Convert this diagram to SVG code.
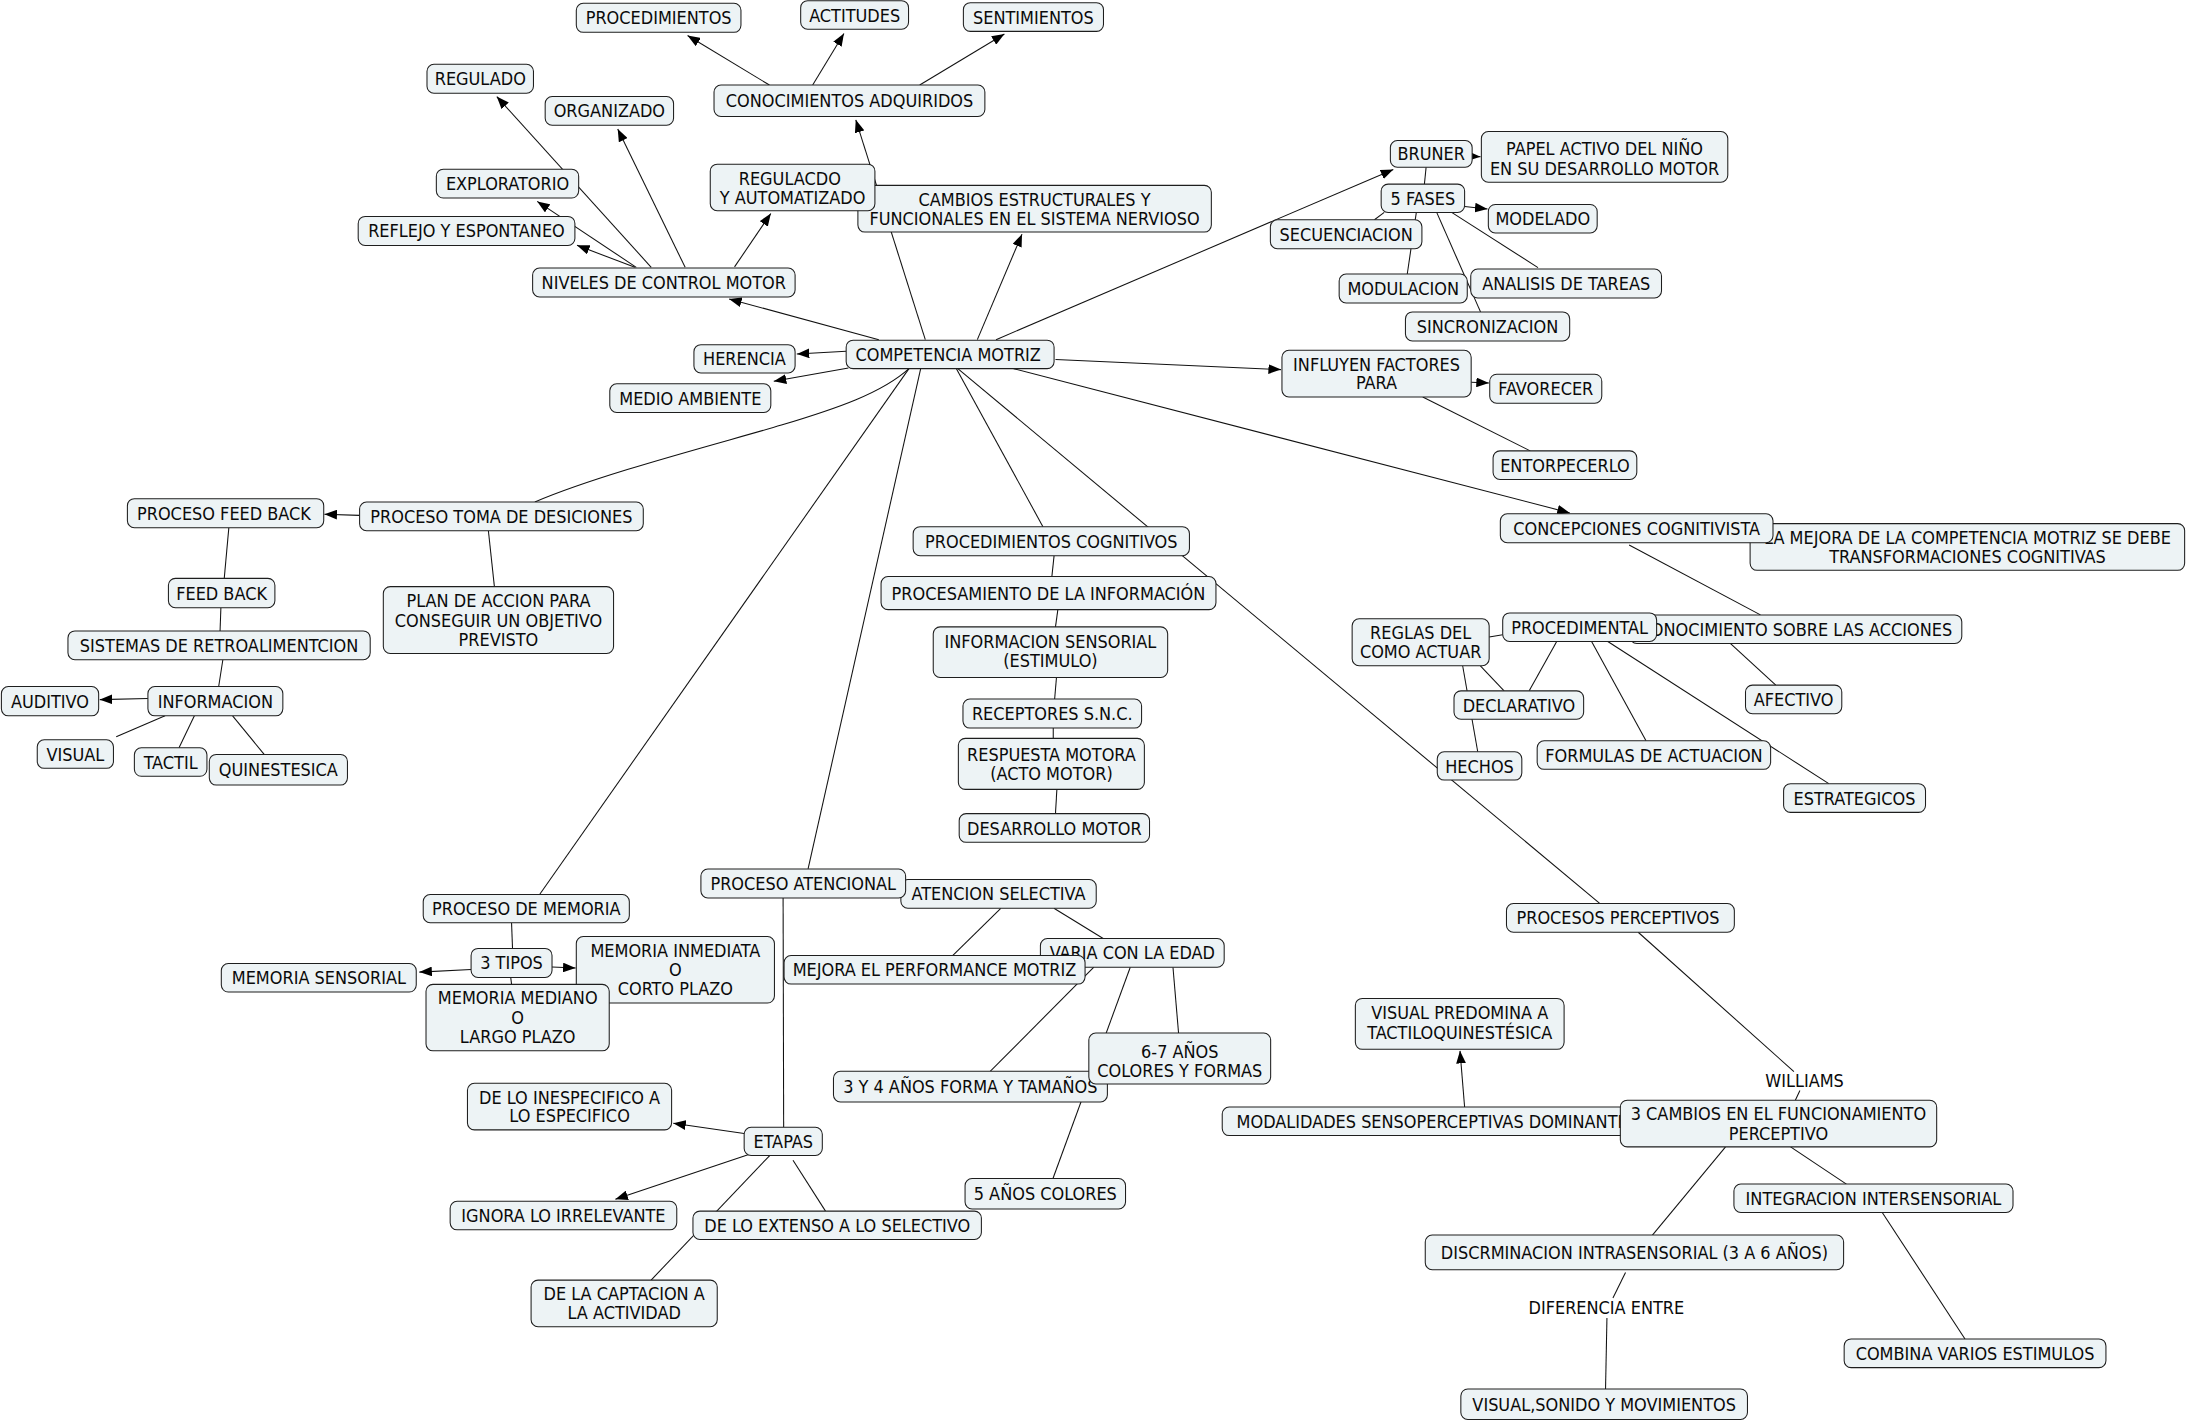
<svg xmlns="http://www.w3.org/2000/svg" width="2188" height="1423" viewBox="0 0 2188 1423">
<style>
.node rect{fill:#edf3f5;stroke:#1e1e1e;stroke-width:0.75}
text{font-family:"DejaVu Sans Condensed","DejaVu Sans",sans-serif;font-stretch:condensed;font-size:12.85px;fill:#0a0a0a;text-anchor:middle}
.conn line,.conn path{stroke:#111;stroke-width:0.75;fill:none}
.conn .a{marker-end:url(#ah)}
</style>
<defs>
<marker id="ah" viewBox="0 0 10 10" refX="10" refY="5" markerWidth="9" markerHeight="7" markerUnits="userSpaceOnUse" orient="auto" preserveAspectRatio="none"><path d="M0,0L10,5L0,10z" fill="#000"/></marker>
</defs>
<rect width="2188" height="1423" fill="#fff"/>
<g transform="scale(1.3954,1.3937)">
<g id="connectors" class="conn">
<line class="a" x1="455" y1="191.8" x2="413.5" y2="176"/>
<line class="a" x1="456" y1="191.8" x2="385" y2="144.5"/>
<line class="a" x1="466.7" y1="191.8" x2="356" y2="69.3"/>
<line class="a" x1="491" y1="191.8" x2="442.7" y2="92.5"/>
<line class="a" x1="526.4" y1="191.5" x2="552.4" y2="153.2"/>
<line class="a" x1="629.8" y1="243.7" x2="522.5" y2="214.5"/>
<line class="a" x1="606.4" y1="252" x2="571" y2="254"/>
<line class="a" x1="608" y1="264" x2="554.5" y2="273.6"/>
<line class="a" x1="663.1" y1="243.7" x2="613.3" y2="86"/>
<line class="a" x1="700.4" y1="243.7" x2="732.4" y2="168"/>
<line class="a" x1="551.4" y1="61" x2="492.7" y2="25.5"/>
<line class="a" x1="582.4" y1="61" x2="604.8" y2="24"/>
<line class="a" x1="659.1" y1="61" x2="719.8" y2="24.4"/>
<line class="a" x1="713.8" y1="243.7" x2="998.5" y2="121.6"/>
<line class="a" x1="1052" y1="112" x2="1061" y2="112.5"/>
<line x1="1022" y1="120" x2="1020.8" y2="132.1"/>
<line class="a" x1="1049.6" y1="148.1" x2="1066" y2="150"/>
<line x1="992" y1="152.4" x2="985" y2="157.7"/>
<line x1="1015" y1="152.4" x2="1008.5" y2="196.6"/>
<line x1="1029.6" y1="152.4" x2="1061" y2="223.8"/>
<line x1="1040.3" y1="152.4" x2="1102.2" y2="192"/>
<line class="a" x1="756.4" y1="258" x2="918" y2="265.2"/>
<line class="a" x1="1054.3" y1="274.2" x2="1067" y2="274.8"/>
<line x1="1019.6" y1="284.8" x2="1096.6" y2="323.5"/>
<line class="a" x1="726.4" y1="264.5" x2="1125" y2="368"/>
<line x1="1167.5" y1="391" x2="1261.6" y2="441.2"/>
<line x1="1240" y1="461.7" x2="1272.6" y2="491.6"/>
<line x1="1076.9" y1="455.5" x2="1067.2" y2="457"/>
<line x1="1115.6" y1="460.3" x2="1095.9" y2="495.7"/>
<line x1="1140.6" y1="460.3" x2="1179.6" y2="531.5"/>
<line x1="1152.2" y1="460.3" x2="1310.6" y2="562.3"/>
<line x1="1060.9" y1="477.7" x2="1077.9" y2="495.7"/>
<line x1="1048.2" y1="477.7" x2="1059" y2="539.4"/>
<line x1="686.4" y1="264.5" x2="1146.6" y2="648.3"/>
<line x1="685.4" y1="264.5" x2="747.4" y2="377.9"/>
<line x1="651.4" y1="264.5" x2="386.7" y2="641.8"/>
<line x1="659.8" y1="264.5" x2="579.1" y2="623.5"/>
<path d="M651.4,264.5 C632,282 600,293 560,305 S430,340 383.3,360.2"/>
<line class="a" x1="257.7" y1="369.8" x2="232.5" y2="369"/>
<line x1="164" y1="378.6" x2="160.7" y2="415"/>
<line x1="350" y1="380.8" x2="354.3" y2="420.9"/>
<line x1="158.3" y1="436" x2="157.7" y2="452.7"/>
<line x1="159.7" y1="473.4" x2="156.7" y2="492.6"/>
<line class="a" x1="106" y1="501.2" x2="71.5" y2="502"/>
<line x1="118.3" y1="513.6" x2="83.3" y2="528.6"/>
<line x1="139.3" y1="513.6" x2="128.3" y2="536.5"/>
<line x1="166.7" y1="513.6" x2="189.3" y2="541.3"/>
<line x1="755.4" y1="398.7" x2="753.8" y2="413.7"/>
<line x1="758.1" y1="437.4" x2="756.4" y2="449.8"/>
<line x1="757.1" y1="486.1" x2="755.8" y2="501.6"/>
<line x1="754.8" y1="522.4" x2="754.8" y2="529.8"/>
<line x1="757.4" y1="566.4" x2="756.4" y2="583.8"/>
<line x1="561.2" y1="644.3" x2="561.6" y2="808.8"/>
<line x1="717.2" y1="651.7" x2="682.7" y2="685.6"/>
<line x1="755.3" y1="651.7" x2="790.6" y2="673.4"/>
<line x1="783.9" y1="694" x2="709.6" y2="768.7"/>
<line x1="810" y1="694" x2="754.6" y2="845.6"/>
<line x1="840.6" y1="694" x2="844.6" y2="741.2"/>
<line x1="366.6" y1="662.1" x2="367.3" y2="680.5"/>
<line class="a" x1="337.6" y1="695.6" x2="300.5" y2="697.5"/>
<line class="a" x1="395.6" y1="693.9" x2="412.5" y2="694.6"/>
<line x1="366" y1="701.3" x2="366.6" y2="706.3"/>
<line class="a" x1="533.3" y1="813.3" x2="482.5" y2="806"/>
<line class="a" x1="536.6" y1="828.4" x2="441" y2="860.5"/>
<line x1="568.3" y1="832.5" x2="591.6" y2="869"/>
<line x1="551.6" y1="829.1" x2="466.6" y2="918.5"/>
<line class="a" x1="1049.6" y1="794.3" x2="1046.3" y2="754"/>
<line x1="1174" y1="668.9" x2="1285.6" y2="768.9"/>
<line x1="1289.9" y1="782.5" x2="1286.6" y2="789.4"/>
<line x1="1236.6" y1="822.9" x2="1184.2" y2="886.2"/>
<line x1="1283.2" y1="822.9" x2="1323.2" y2="849.6"/>
<line x1="1348.9" y1="870" x2="1408.2" y2="960.7"/>
<line x1="1164.9" y1="913" x2="1155.9" y2="931.3"/>
<line x1="1151.6" y1="945.7" x2="1150.6" y2="996.6"/>
</g>
<g id="n-procedimientos" class="node"><rect x="413" y="2.4" width="118" height="20.8" rx="5"/><text x="472" y="17.5">PROCEDIMIENTOS</text></g>
<g id="n-actitudes" class="node"><rect x="573.8" y="0.5" width="77.3" height="20.5" rx="5"/><text x="612.5" y="15.5">ACTITUDES</text></g>
<g id="n-sentimientos" class="node"><rect x="690.4" y="1.9" width="100.4" height="20.6" rx="5"/><text x="740.6" y="16.9">SENTIMIENTOS</text></g>
<g id="n-conocimientos-adquiridos" class="node"><rect x="511.7" y="61" width="194.1" height="22.6" rx="5"/><text x="608.8" y="77">CONOCIMIENTOS ADQUIRIDOS</text></g>
<g id="n-regulado" class="node"><rect x="306" y="46.1" width="76.3" height="20.8" rx="5"/><text x="344.2" y="61.2">REGULADO</text></g>
<g id="n-organizado" class="node"><rect x="390.7" y="69.3" width="92" height="20.5" rx="5"/><text x="436.7" y="84.3">ORGANIZADO</text></g>
<g id="n-exploratorio" class="node"><rect x="312.7" y="121.4" width="102" height="20.7" rx="5"/><text x="363.7" y="136.5">EXPLORATORIO</text></g>
<g id="n-reflejo" class="node"><rect x="256.7" y="155.3" width="155.3" height="20.8" rx="5"/><text x="334.3" y="170.4">REFLEJO Y ESPONTANEO</text></g>
<g id="n-niveles" class="node"><rect x="381.7" y="192.3" width="188.1" height="20.8" rx="5"/><text x="475.7" y="207.4">NIVELES DE CONTROL MOTOR</text></g>
<g id="n-cambios" class="node"><rect x="614.8" y="133" width="253.3" height="33.5" rx="5"/><text x="741.4" y="147.5">CAMBIOS ESTRUCTURALES Y</text><text x="741.4" y="161.5">FUNCIONALES EN EL SISTEMA NERVIOSO</text></g>
<g id="n-regulacdo" class="node"><rect x="509" y="117.8" width="118" height="33.4" rx="5"/><text x="566" y="132.5">REGULACDO</text><text x="568" y="146.3">Y AUTOMATIZADO</text></g>
<g id="n-competencia" class="node"><rect x="606.4" y="244.1" width="149" height="20.4" rx="5"/><text x="679.5" y="259">COMPETENCIA MOTRIZ</text></g>
<g id="n-herencia" class="node"><rect x="497.3" y="247.3" width="72.5" height="20.3" rx="5"/><text x="533.5" y="262.2">HERENCIA</text></g>
<g id="n-medio-ambiente" class="node"><rect x="437" y="275.4" width="115.4" height="20.6" rx="5"/><text x="494.7" y="290.4">MEDIO AMBIENTE</text></g>
<g id="n-bruner" class="node"><rect x="996.4" y="100.8" width="58.6" height="19.2" rx="5"/><text x="1025.7" y="115.1">BRUNER</text></g>
<g id="n-papel" class="node"><rect x="1061.6" y="94.4" width="176.6" height="36.3" rx="5"/><text x="1149.9" y="111.5">PAPEL ACTIVO DEL NIÑO</text><text x="1149.9" y="125.3">EN SU DESARROLLO MOTOR</text></g>
<g id="n-5fases" class="node"><rect x="989.8" y="132.1" width="59.8" height="20.3" rx="5"/><text x="1019.7" y="147">5 FASES</text></g>
<g id="n-modelado" class="node"><rect x="1066.6" y="146.7" width="78" height="20.5" rx="5"/><text x="1105.6" y="161.7">MODELADO</text></g>
<g id="n-secuenciacion" class="node"><rect x="910.4" y="157.7" width="108.6" height="20.8" rx="5"/><text x="964.7" y="172.8">SECUENCIACION</text></g>
<g id="n-modulacion" class="node"><rect x="959.7" y="196.6" width="91.8" height="20.8" rx="5"/><text x="1005.6" y="211.7">MODULACION</text></g>
<g id="n-analisis" class="node"><rect x="1054" y="193" width="136.7" height="20.8" rx="5"/><text x="1122.4" y="208.1">ANALISIS DE TAREAS</text></g>
<g id="n-sincronizacion" class="node"><rect x="1007.2" y="223.8" width="117.7" height="20.8" rx="5"/><text x="1066" y="238.9">SINCRONIZACION</text></g>
<g id="n-influyen" class="node"><rect x="918.7" y="251.3" width="135.6" height="33.5" rx="5"/><text x="986.5" y="266.3">INFLUYEN FACTORES</text><text x="986.5" y="279.4">PARA</text></g>
<g id="n-favorecer" class="node"><rect x="1067.6" y="268.5" width="80.3" height="20.8" rx="5"/><text x="1107.8" y="283.6">FAVORECER</text></g>
<g id="n-entorpecerlo" class="node"><rect x="1070" y="323.5" width="103" height="20.5" rx="5"/><text x="1121.5" y="338.5">ENTORPECERLO</text></g>
<g id="n-proceso-feed-back" class="node"><rect x="91.3" y="357.8" width="140.7" height="20.8" rx="5"/><text x="160.5" y="372.9">PROCESO FEED BACK</text></g>
<g id="n-toma-desiciones" class="node"><rect x="257.7" y="360.2" width="203.3" height="20.6" rx="5"/><text x="359.3" y="375.2">PROCESO TOMA DE DESICIONES</text></g>
<g id="n-feed-back" class="node"><rect x="120.7" y="415" width="76.3" height="21" rx="5"/><text x="158.8" y="430.2">FEED BACK</text></g>
<g id="n-plan" class="node"><rect x="274.7" y="420.9" width="165" height="48" rx="5"/><text x="357.2" y="435.6">PLAN DE ACCION PARA</text><text x="357.2" y="449.6">CONSEGUIR UN OBJETIVO</text><text x="357.2" y="463.6">PREVISTO</text></g>
<g id="n-sistemas" class="node"><rect x="48.7" y="452.7" width="216.6" height="20.7" rx="5"/><text x="157" y="467.8">SISTEMAS DE RETROALIMENTCION</text></g>
<g id="n-informacion" class="node"><rect x="106" y="492.6" width="96.7" height="21" rx="5"/><text x="154.3" y="507.8">INFORMACION</text></g>
<g id="n-auditivo" class="node"><rect x="1" y="492.6" width="69.7" height="21" rx="5"/><text x="35.8" y="507.8">AUDITIVO</text></g>
<g id="n-visual" class="node"><rect x="26.7" y="530.8" width="54.6" height="20.5" rx="5"/><text x="54" y="545.8">VISUAL</text></g>
<g id="n-tactil" class="node"><rect x="96.3" y="536.5" width="52" height="20.5" rx="5"/><text x="122.3" y="551.5">TACTIL</text></g>
<g id="n-quinestesica" class="node"><rect x="150" y="541.3" width="99" height="22" rx="5"/><text x="199.5" y="557">QUINESTESICA</text></g>
<g id="n-procedimientos-cognitivos" class="node"><rect x="654.4" y="377.9" width="198" height="20.8" rx="5"/><text x="753.4" y="393">PROCEDIMIENTOS COGNITIVOS</text></g>
<g id="n-procesamiento" class="node"><rect x="631.4" y="413.7" width="240" height="23.7" rx="5"/><text x="751.4" y="430.2">PROCESAMIENTO DE LA INFORMACIÓN</text></g>
<g id="n-info-sensorial" class="node"><rect x="668.8" y="449.8" width="168" height="36.3" rx="5"/><text x="752.8" y="465">INFORMACION SENSORIAL</text><text x="752.8" y="478.9">(ESTIMULO)</text></g>
<g id="n-receptores" class="node"><rect x="690.1" y="501.6" width="128" height="20.8" rx="5"/><text x="754.1" y="516.7">RECEPTORES S.N.C.</text></g>
<g id="n-respuesta" class="node"><rect x="686.8" y="529.8" width="133.3" height="36.6" rx="5"/><text x="753.5" y="545.7">RESPUESTA MOTORA</text><text x="753.5" y="559.4">(ACTO MOTOR)</text></g>
<g id="n-desarrollo" class="node"><rect x="687.4" y="583.8" width="136.4" height="20.6" rx="5"/><text x="755.6" y="598.8">DESARROLLO MOTOR</text></g>
<g id="n-la-mejora" class="node"><rect x="1254.2" y="375.7" width="311.4" height="33.5" rx="5"/><text x="1410" y="390.5">LA MEJORA DE LA COMPETENCIA MOTRIZ SE DEBE</text><text x="1410" y="404.3">TRANSFORMACIONES COGNITIVAS</text></g>
<g id="n-concepciones" class="node"><rect x="1075.2" y="368.6" width="195.4" height="20.8" rx="5"/><text x="1172.9" y="383.7">CONCEPCIONES COGNITIVISTA</text></g>
<g id="n-conocimiento-acciones" class="node"><rect x="1168" y="441.2" width="237.9" height="20.5" rx="5"/><text x="1287" y="456.2">CONOCIMIENTO SOBRE LAS ACCIONES</text></g>
<g id="n-procedimental" class="node"><rect x="1076.9" y="439.8" width="110.3" height="20.5" rx="5"/><text x="1132" y="454.7">PROCEDIMENTAL</text></g>
<g id="n-reglas" class="node"><rect x="969" y="444" width="98.2" height="33.7" rx="5"/><text x="1018.1" y="458.6">REGLAS DEL</text><text x="1018.1" y="472.4">COMO ACTUAR</text></g>
<g id="n-declarativo" class="node"><rect x="1042" y="495.7" width="92.9" height="20.3" rx="5"/><text x="1088.5" y="510.6">DECLARATIVO</text></g>
<g id="n-hechos" class="node"><rect x="1030" y="539.4" width="60.6" height="20.3" rx="5"/><text x="1060.3" y="554.3">HECHOS</text></g>
<g id="n-afectivo" class="node"><rect x="1250.9" y="491.6" width="69" height="20.5" rx="5"/><text x="1285.4" y="506.6">AFECTIVO</text></g>
<g id="n-formulas" class="node"><rect x="1101.6" y="531.5" width="167.3" height="20.5" rx="5"/><text x="1185.3" y="546.5">FORMULAS DE ACTUACION</text></g>
<g id="n-estrategicos" class="node"><rect x="1278.2" y="562.3" width="101.7" height="20.6" rx="5"/><text x="1329" y="577.3">ESTRATEGICOS</text></g>
<g id="n-procesos-perceptivos" class="node"><rect x="1079.6" y="648.3" width="163.3" height="20.6" rx="5"/><text x="1159.5" y="663.3">PROCESOS PERCEPTIVOS</text></g>
<g id="n-proceso-memoria" class="node"><rect x="303.3" y="641.8" width="147.7" height="20.3" rx="5"/><text x="377.2" y="656.7">PROCESO DE MEMORIA</text></g>
<g id="n-atencion-selectiva" class="node"><rect x="645.6" y="631.1" width="140" height="20.6" rx="5"/><text x="715.6" y="646.1">ATENCION SELECTIVA</text></g>
<g id="n-proceso-atencional" class="node"><rect x="502.3" y="623.5" width="146.7" height="20.8" rx="5"/><text x="575.6" y="638.6">PROCESO ATENCIONAL</text></g>
<g id="n-3-tipos" class="node"><rect x="337.6" y="680.5" width="58" height="20.8" rx="5"/><text x="366.6" y="695.6">3 TIPOS</text></g>
<g id="n-memoria-sensorial" class="node"><rect x="158.6" y="691.3" width="139.7" height="20.5" rx="5"/><text x="228.5" y="706.3">MEMORIA SENSORIAL</text></g>
<g id="n-memoria-inmediata" class="node"><rect x="413" y="672" width="142" height="47.7" rx="5"/><text x="484" y="686.7">MEMORIA INMEDIATA</text><text x="484" y="700.3">O</text><text x="484" y="714.1">CORTO PLAZO</text></g>
<g id="n-memoria-mediano" class="node"><rect x="305.3" y="706.3" width="131.3" height="47.7" rx="5"/><text x="371" y="720.6">MEMORIA MEDIANO</text><text x="371" y="734.4">O</text><text x="371" y="748.3">LARGO PLAZO</text></g>
<g id="n-inespecifico" class="node"><rect x="335" y="777.3" width="146.3" height="33.4" rx="5"/><text x="408.2" y="791.8">DE LO INESPECIFICO A</text><text x="408.2" y="805.4">LO ESPECIFICO</text></g>
<g id="n-etapas" class="node"><rect x="533.3" y="808.8" width="56" height="20.3" rx="5"/><text x="561.3" y="823.7">ETAPAS</text></g>
<g id="n-ignora" class="node"><rect x="322.6" y="861.9" width="162.4" height="20.5" rx="5"/><text x="403.8" y="876.9">IGNORA LO IRRELEVANTE</text></g>
<g id="n-extenso" class="node"><rect x="496.6" y="869" width="206.7" height="20.3" rx="5"/><text x="600" y="883.9">DE LO EXTENSO A LO SELECTIVO</text></g>
<g id="n-captacion" class="node"><rect x="380.6" y="918.5" width="133.4" height="33.4" rx="5"/><text x="447.3" y="932.7">DE LA CAPTACION A</text><text x="447.3" y="946.6">LA ACTIVIDAD</text></g>
<g id="n-varia" class="node"><rect x="745.6" y="673.4" width="131.7" height="20.6" rx="5"/><text x="811.5" y="688.4">VARIA CON LA EDAD</text></g>
<g id="n-mejora-performance" class="node"><rect x="561.9" y="685.6" width="215.7" height="20.5" rx="5"/><text x="669.7" y="700.6">MEJORA EL PERFORMANCE MOTRIZ</text></g>
<g id="n-3y4" class="node"><rect x="597.3" y="768.7" width="196.3" height="22" rx="5"/><text x="695.4" y="784.4">3 Y 4 AÑOS FORMA Y TAMAÑOS</text></g>
<g id="n-6-7" class="node"><rect x="780.3" y="741.2" width="130.3" height="36.6" rx="5"/><text x="845.5" y="758.8">6-7 AÑOS</text><text x="845.5" y="772.7">COLORES Y FORMAS</text></g>
<g id="n-5-anos" class="node"><rect x="691.6" y="845.6" width="115" height="21.9" rx="5"/><text x="749.1" y="861.3">5 AÑOS COLORES</text></g>
<g id="n-visual-predomina" class="node"><rect x="971.3" y="716.4" width="149.6" height="36.5" rx="5"/><text x="1046.1" y="731.4">VISUAL PREDOMINA A</text><text x="1046.1" y="745.2">TACTILOQUINESTÉSICA</text></g>
<g id="n-modalidades" class="node"><rect x="875.9" y="794.3" width="308" height="20.5" rx="5"/><text x="1030" y="809.3">MODALIDADES SENSOPERCEPTIVAS DOMINANTES</text></g>
<g id="n-3-cambios" class="node"><rect x="1161.2" y="789.4" width="226.7" height="33.5" rx="5"/><text x="1274.5" y="803.4">3 CAMBIOS EN EL FUNCIONAMIENTO</text><text x="1274.5" y="817.8">PERCEPTIVO</text></g>
<g id="n-integracion" class="node"><rect x="1242.6" y="849.6" width="200" height="20.4" rx="5"/><text x="1342.6" y="864.5">INTEGRACION INTERSENSORIAL</text></g>
<g id="n-discrminacion" class="node"><rect x="1021.4" y="886.2" width="299.8" height="24.8" rx="5"/><text x="1171.3" y="903.3">DISCRMINACION INTRASENSORIAL (3 A 6 AÑOS)</text></g>
<g id="n-combina" class="node"><rect x="1321.6" y="960.7" width="187.6" height="20.6" rx="5"/><text x="1415.4" y="975.7">COMBINA VARIOS ESTIMULOS</text></g>
<g id="n-visual-sonido" class="node"><rect x="1046.9" y="996.6" width="205.4" height="21.9" rx="5"/><text x="1149.6" y="1012.3">VISUAL,SONIDO Y MOVIMIENTOS</text></g>
<g id="l-williams"><text x="1293.2" y="780.3">WILLIAMS</text></g>
<g id="l-diferencia"><text x="1151.2" y="942.7">DIFERENCIA ENTRE</text></g>
</g>
</svg>
